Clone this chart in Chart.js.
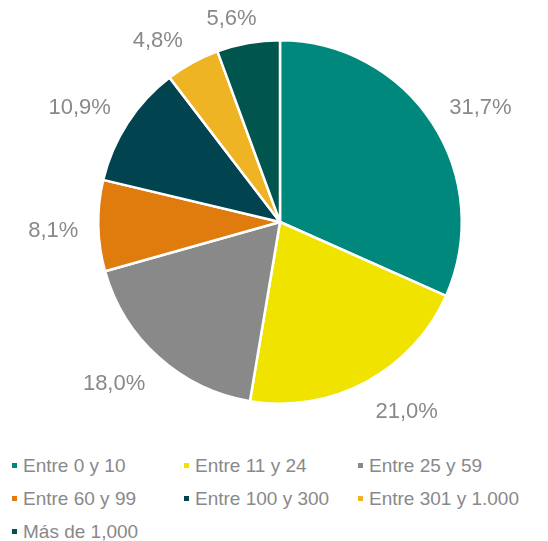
<!DOCTYPE html>
<html>
<head>
<meta charset="utf-8">
<script src="https://cdn.jsdelivr.net/npm/chart.js@4"></script>
<style>
  html, body { margin: 0; padding: 0; background: #fff; }
  body { width: 548px; height: 541px; position: relative; overflow: hidden;
         font-family: "Liberation Sans", Arial, sans-serif; }
  #wrap { position: absolute; left: 0; top: 0; width: 548px; height: 445px; }
  #legend { position: absolute; left: 12px; top: 449px;
            display: grid; grid-template-columns: 172px 174px auto;
            grid-auto-rows: 33px; color: #898989; font-size: 19px; }
  #legend .item { display: flex; align-items: center; white-space: nowrap; }
  #legend .box { width: 5px; height: 5px; margin-right: 6px; flex: none; }
</style>
</head>
<body>
<div id="wrap"><canvas id="myChart"></canvas></div>
<div id="legend"></div>
<script>
const categories = [
    'Entre 0 y 10',
    'Entre 11 y 24',
    'Entre 25 y 59',
    'Entre 60 y 99',
    'Entre 100 y 300',
    'Entre 301 y 1.000',
    'Más de 1,000'
];
const shares = [31.7, 21.0, 18.0, 8.1, 10.9, 4.8, 5.6];
const colors = ['#00887D', '#F0E300', '#898989', '#E07B0E', '#01444F', '#EFB424', '#00554E'];

// legend as real text, same grid as the original
const legendEl = document.getElementById('legend');
categories.forEach((c, i) => {
    const item = document.createElement('div');
    item.className = 'item';
    const box = document.createElement('span');
    box.className = 'box';
    box.style.background = colors[i];
    item.appendChild(box);
    item.appendChild(document.createTextNode(c));
    legendEl.appendChild(item);
});

// percentage labels outside the slices
const outsideLabels = {
    id: 'outsideLabels',
    afterDatasetsDraw(chart) {
        const ctx = chart.ctx;
        const meta = chart.getDatasetMeta(0);
        ctx.save();
        ctx.font = '22px "Liberation Sans", Arial, sans-serif';
        ctx.fillStyle = '#898989';
        ctx.textAlign = 'center';
        ctx.textBaseline = 'middle';
        meta.data.forEach((arc, i) => {
            const mid = (arc.startAngle + arc.endAngle) / 2;
            const ux = Math.cos(mid), uy = Math.sin(mid);
            const text = shares[i].toFixed(1).replace('.', ',') + '%';
            const w = ctx.measureText(text).width;
            const h = 16;
            const r = arc.outerRadius + 20;
            const sx = Math.max(-1, Math.min(1, ux * 3));
            const sy = Math.max(-1, Math.min(1, uy * 3));
            const x = arc.x + r * ux + sx * w / 2;
            const y = arc.y + r * uy + sy * h / 2 + 4;
            ctx.fillText(text, x, y);
        });
        ctx.restore();
    }
};

const data = {
    labels: categories,
    datasets: [{
        data: shares,
        backgroundColor: colors,
        borderColor: '#ffffff',
        borderWidth: 2.5
    }]
};

const config = {
    type: 'pie',
    data: data,
    options: {
        responsive: true,
        maintainAspectRatio: false,
        animation: false,
        layout: {
            padding: { left: 97, right: 85, top: 39, bottom: 40 }
        },
        plugins: {
            legend: { display: false },
            tooltip: { enabled: false }
        }
    },
    plugins: [outsideLabels]
};

new Chart(document.getElementById('myChart'), config);
</script>
</body>
</html>
